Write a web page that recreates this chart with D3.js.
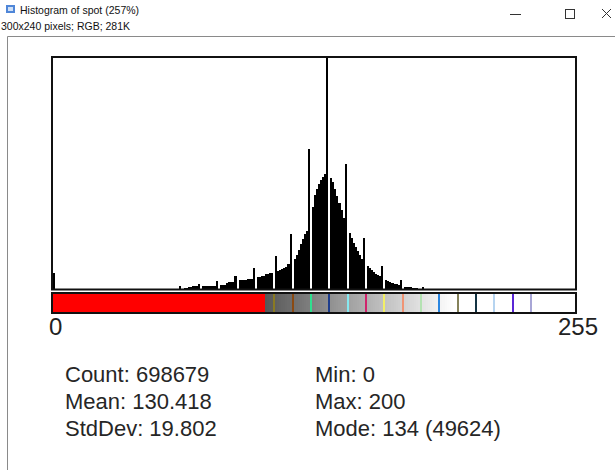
<!DOCTYPE html>
<html>
<head>
<meta charset="utf-8">
<script src="https://cdn.jsdelivr.net/npm/d3@7/dist/d3.min.js"></script>
<style>
  html, body { margin: 0; padding: 0; background: #fff; }
  svg { display: block; font-family: "Liberation Sans", Arial, sans-serif; }
</style>
</head>
<body>
<svg id="chart" width="615" height="470"></svg>
<script>
/* ── Data ─────────────────────────────────────────────────────────────── */
// pixel counts per grey level 0..255
const counts = [
  3400, 0, 0, 0, 0, 0, 0, 0, 0, 0, 0, 0, 0, 0, 0, 0,
  0, 0, 0, 0, 0, 0, 0, 0, 0, 0, 0, 0, 0, 0, 0, 0,
  0, 0, 0, 0, 0, 0, 0, 0, 0, 0, 0, 0, 0, 0, 0, 0,
  0, 0, 0, 0, 0, 0, 0, 0, 0, 0, 0, 0, 0, 0, 640, 0,
  210, 320, 530, 530, 575, 575, 575, 1065, 0, 575, 575, 600, 640, 640, 680, 745,
  1770, 0, 915, 915, 960, 1385, 1425, 1425, 1490, 2835, 0, 1855, 1855, 1855, 1915, 2130,
  2130, 2235, 4475, 0, 2660, 2660, 2705, 2770, 3195, 3300, 3345, 3410, 0, 7030, 3940, 4155,
  4365, 4580, 4790, 5325, 11715, 0, 6390, 7240, 8305, 9585, 10650, 11715, 12565, 30035, 0, 17680,
  20235, 21515, 22580, 23430, 24070, 24710, 49624, 0, 23855, 23005, 21515, 20020, 18530, 17040, 15335, 26840,
  0, 11930, 10865, 9800, 8945, 8095, 7240, 6390, 10865, 0, 4900, 4475, 4045, 3620, 3300, 2980,
  2770, 4900, 0, 2025, 1810, 1600, 1385, 1170, 1065, 960, 1980, 0, 425, 425, 425, 425,
  215, 215, 110, 60, 0, 425, 40, 25, 20, 15, 12, 10, 8, 6, 5, 4,
  4, 3, 3, 2, 2, 2, 1, 1, 1, 0, 0, 0, 0, 0, 0, 0,
  0, 0, 0, 0, 0, 0, 0, 0, 0, 0, 0, 0, 0, 0, 0, 0,
  0, 0, 0, 0, 0, 0, 0, 0, 0, 0, 0, 0, 0, 0, 0, 0,
  0, 0, 0, 0, 0, 0, 0, 0, 0, 0, 0, 0, 0, 0, 0, 0
];

const axisLabels = ["0", "255"];

const statsLeft  = ["Count: 698679", "Mean: 130.418", "StdDev: 19.802"];
const statsRight = ["Min: 0", "Max: 200", "Mode: 134 (49624)"];

// LUT: red up to this level, then grey ramp with coloured entries
const lutRedEnd = 104;
const lutMarkLevels = [108, 117, 126, 135, 144, 153, 162, 171, 180, 189, 198, 207, 216, 225, 234];
const lutMarkColors = ["#8a7a22", "#8b4a12", "#2fe08f", "#1d3d8c", "#86e8f0", "#d0246c", "#f2ef66",
                       "#f09474", "#b4e2b2", "#2a86e0", "#85825a", "#143444", "#b6d4f0", "#5a26d6", "#a8a6d6"];

/* ── Layout ───────────────────────────────────────────────────────────── */
const svg = d3.select("#chart");
const X0 = 53, X1 = 575;
const Y_TOP = 58, Y_BASE = 289;
const BAR_Y0 = 294, BAR_Y1 = 312;

const x = d3.scaleBand().domain(d3.range(256)).range([X0, X1]).padding(0);
const y = d3.scaleLinear().domain([0, d3.max(counts)]).range([Y_BASE, Y_TOP]);
const grey = d3.scaleLinear().domain([lutRedEnd, 196]).range(["#575757", "#ffffff"]).clamp(true);

/* ── Window chrome ────────────────────────────────────────────────────── */
const chrome = svg.append("g");
chrome.append("rect").attr("x", 6).attr("y", 5).attr("width", 9).attr("height", 8)
  .attr("fill", "#4f86d8");
chrome.append("rect").attr("x", 8).attr("y", 7).attr("width", 5).attr("height", 4)
  .attr("fill", "#cfe0f6");
chrome.append("text").attr("x", 20).attr("y", 13.5)
  .attr("font-size", 10.5).attr("fill", "#111")
  .text("Histogram of spot (257%)");
chrome.append("text").attr("x", 1).attr("y", 29.5)
  .attr("font-size", 10.5).attr("fill", "#111")
  .text("300x240 pixels; RGB; 281K");
// minimise / maximise / close
chrome.append("line").attr("x1", 510).attr("x2", 521).attr("y1", 14.5).attr("y2", 14.5)
  .attr("stroke", "#333").attr("stroke-width", 1);
chrome.append("rect").attr("x", 565.5).attr("y", 9.5).attr("width", 9).attr("height", 9)
  .attr("fill", "none").attr("stroke", "#333");
chrome.append("path").attr("d", "M602,9 L611,18 M611,9 L602,18")
  .attr("stroke", "#333").attr("stroke-width", 1);
// image panel border
chrome.append("path").attr("d", "M7.5,470 L7.5,36.5 L615,36.5")
  .attr("fill", "none").attr("stroke", "#8a8a8a").attr("stroke-width", 1);

/* ── Histogram ────────────────────────────────────────────────────────── */
const plot = svg.append("g");
plot.selectAll("rect.bar")
  .data(counts.map((c, i) => ({ level: i, count: c })).filter(d => d.count > 0))
  .join("rect")
  .attr("class", "bar")
  .attr("x", d => x(d.level))
  .attr("width", x.bandwidth())
  .attr("y", d => y(d.count))
  .attr("height", d => Y_BASE - y(d.count))
  .attr("fill", "#000")
  .attr("shape-rendering", "crispEdges");

plot.append("rect")
  .attr("x", X0 - 1).attr("y", Y_TOP - 1)
  .attr("width", X1 - X0 + 2).attr("height", Y_BASE - Y_TOP + 1.5)
  .attr("fill", "none").attr("stroke", "#111").attr("stroke-width", 2);

/* ── LUT colour bar ───────────────────────────────────────────────────── */
const markColor = new Map(lutMarkLevels.map((v, i) => [v, lutMarkColors[i]]));
const lut = svg.append("g");
lut.selectAll("rect.lut")
  .data(d3.range(256))
  .join("rect")
  .attr("class", "lut")
  .attr("x", d => x(d))
  .attr("width", x.bandwidth() + 0.4)
  .attr("y", BAR_Y0).attr("height", BAR_Y1 - BAR_Y0)
  .attr("fill", d => d < lutRedEnd ? "#ff0000" : (markColor.get(d) || grey(d)))
  .attr("shape-rendering", "crispEdges");
lut.append("rect")
  .attr("x", X0 - 1).attr("y", BAR_Y0 - 1)
  .attr("width", X1 - X0 + 2).attr("height", BAR_Y1 - BAR_Y0 + 2)
  .attr("fill", "none").attr("stroke", "#111").attr("stroke-width", 2);

/* ── Axis labels ──────────────────────────────────────────────────────── */
svg.append("text").attr("x", 49).attr("y", 335)
  .attr("font-size", 24).attr("fill", "#222")
  .text(axisLabels[0]);
svg.append("text").attr("x", 598).attr("y", 335)
  .attr("font-size", 24).attr("fill", "#222").attr("text-anchor", "end")
  .text(axisLabels[1]);

/* ── Statistics ───────────────────────────────────────────────────────── */
const stats = svg.append("g").attr("font-size", 22).attr("fill", "#262626");
stats.selectAll("text.l").data(statsLeft).join("text")
  .attr("class", "l").attr("x", 65).attr("y", (d, i) => 382 + i * 27).text(d => d);
stats.selectAll("text.r").data(statsRight).join("text")
  .attr("class", "r").attr("x", 315).attr("y", (d, i) => 382 + i * 27).text(d => d);
</script>
</body>
</html>
